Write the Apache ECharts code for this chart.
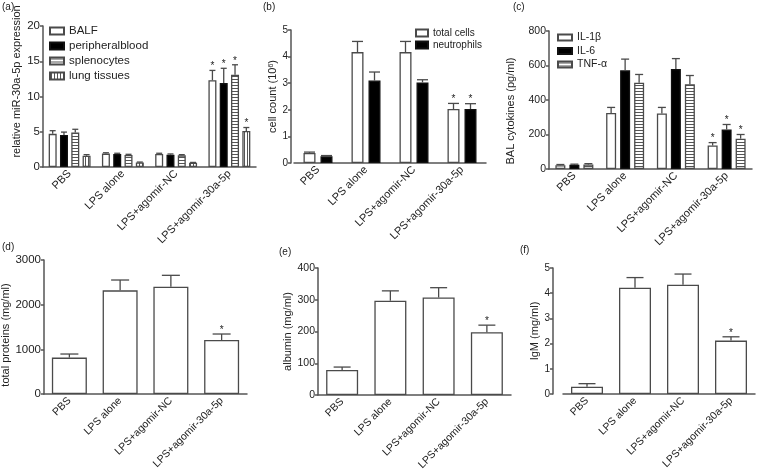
<!DOCTYPE html>
<html><head><meta charset="utf-8">
<script src="https://cdn.jsdelivr.net/npm/echarts@6/dist/echarts.min.js"></script>
<style>html,body{margin:0;padding:0;background:#fff}#c{width:759px;height:473px}</style>
</head><body><div id="c"></div>
<script>
// ---------- data ----------
const categories = ['PBS', 'LPS alone', 'LPS+agomir-NC', 'LPS+agomir-30a-5p'];

// (a) relative miR-30a-5p expression
const aNames = ['BALF', 'peripheralblood', 'splenocytes', 'lung tissues'];
const aBALF = [4.7, 1.9, 1.85, 12.3];
const aBALFSem = [0.45, 0.12, 0.1, 1.4];
const aBlood = [4.55, 1.85, 1.75, 11.9];
const aBloodSem = [0.4, 0.1, 0.1, 2.1];
const aSpleen = [4.9, 1.7, 1.65, 13.1];
const aSpleenSem = [0.45, 0.1, 0.1, 1.4];
const aLung = [1.6, 0.65, 0.6, 5.1];
const aLungSem = [0.15, 0.05, 0.05, 0.5];
const aStars = [0, 0, 0, 1];
const aTicks = [0, 5, 10, 15, 20];

// (b) cell count (10^6)
const bNames = ['total cells', 'neutrophils'];
const bTotal = [0.38, 4.17, 4.17, 2.03];
const bTotalSem = [0.03, 0.4, 0.4, 0.21];
const bNeut = [0.25, 3.1, 3.03, 2.03];
const bNeutSem = [0.03, 0.32, 0.1, 0.2];
const bStars = [0, 0, 0, 1];
const bTicks = [0, 1, 2, 3, 4, 5];

// (c) BAL cytokines (pg/ml)
const cNames = ['IL-1β', 'IL-6', 'TNF-α'];
const cIL1b = [22, 325, 322, 136];
const cIL1bSem = [4, 32, 35, 17];
const cIL6 = [24, 572, 580, 229];
const cIL6Sem = [4, 65, 60, 29];
const cTNF = [26, 500, 492, 176];
const cTNFSem = [5, 48, 50, 24];
const cStars = [0, 0, 0, 1];
const cTicks = [0, 200, 400, 600, 800];

// (d) total proteins (mg/ml)
const dProt = [815, 2320, 2403, 1209];
const dProtSem = [80, 232, 254, 134];
const dStars = [0, 0, 0, 1];
const dTicks = [0, 1000, 2000, 3000];

// (e) albumin (mg/ml)
const eAlb = [79, 297, 307, 198];
const eAlbSem = [9, 31, 31, 22];
const eStars = [0, 0, 0, 1];
const eTicks = [0, 100, 200, 300, 400];

// (f) IgM (mg/ml)
const fIgM = [0.29, 4.22, 4.34, 2.12];
const fIgMSem = [0.12, 0.40, 0.42, 0.15];
const fStars = [0, 0, 0, 1];
const fTicks = [0, 1, 2, 3, 4, 5];

// ---------- styling / layout ----------
const FONT = "'Liberation Sans', Arial, Helvetica, sans-serif";
const INK = '#222';
const LINE = '#555';
const EDGE = '#4a4a4a';

function fillFor(kind) {
  if (kind === 'white') return '#ffffff';
  if (kind === 'black') return '#000000';
  const c = document.createElement('canvas');
  c.width = 3; c.height = 3;
  const g = c.getContext('2d');
  g.fillStyle = '#ffffff'; g.fillRect(0, 0, 3, 3);
  g.fillStyle = '#555555';
  if (kind === 'h') g.fillRect(0, 1, 3, 1); else g.fillRect(1, 0, 1, 3);
  return { image: c, repeat: 'repeat' };
}

const panels = [
  { title: '(a)', tl: [2, 2], grid: { left: 43, top: 26, width: 213, height: 141 }, yOffset: 0,
    ticks: aTicks, yName: 'relative miR-30a-5p expression', namePad: [0, 0, 0, 30], nameGap: 21,
    yFont: 11.5, xFont: 11, barWidth: 8, gap: 3.3, cap: 6,
    series: [
      { name: aNames[0], data: aBALF, sem: aBALFSem, fill: 'white', stars: aStars },
      { name: aNames[1], data: aBlood, sem: aBloodSem, fill: 'black', stars: aStars },
      { name: aNames[2], data: aSpleen, sem: aSpleenSem, fill: 'h', stars: aStars },
      { name: aNames[3], data: aLung, sem: aLungSem, fill: 'v', stars: aStars }
    ],
    legend: { names: aNames, left: 49, top: 25, w: 14, h: 7, gap: 3, fs: 11.5, tg: 8 } },
  { title: '(b)', tl: [263, 2], grid: { left: 294, top: 30, width: 192, height: 133 }, yOffset: 3,
    ticks: bTicks, yName: 'cell count (10{sup|6})', namePad: [0, 0, 0, 0], nameGap: 12,
    yFont: 10, xFont: 11, barWidth: 12, gap: 5, cap: 11,
    series: [
      { name: bNames[0], data: bTotal, sem: bTotalSem, fill: 'white', stars: bStars },
      { name: bNames[1], data: bNeut, sem: bNeutSem, fill: 'black', stars: bStars }
    ],
    legend: { names: bNames, left: 415, top: 28, w: 12, h: 7, gap: 2, fs: 10, tg: 4 } },
  { title: '(c)', tl: [513, 2], grid: { left: 549, top: 31, width: 203, height: 138 }, yOffset: 0,
    ticks: cTicks, yName: 'BAL cytokines (pg/ml)', namePad: [0, 22, 0, 0], nameGap: 33,
    yFont: 10.5, xFont: 11, barWidth: 10, gap: 4, cap: 8,
    series: [
      { name: cNames[0], data: cIL1b, sem: cIL1bSem, fill: 'white', stars: cStars },
      { name: cNames[1], data: cIL6, sem: cIL6Sem, fill: 'black', stars: cStars },
      { name: cNames[2], data: cTNF, sem: cTNFSem, fill: 'h', stars: cStars }
    ],
    legend: { names: cNames, left: 557, top: 32, w: 14, h: 6, gap: 2.5, fs: 10.5, tg: 4 } },
  { title: '(d)', tl: [2, 242], grid: { left: 44, top: 260, width: 203, height: 134 }, yOffset: 0,
    ticks: dTicks, yName: 'total proteins (mg/ml)', namePad: [0, 16, 0, 0], nameGap: 30,
    yFont: 11.5, xFont: 10.5, barWidth: 35, gap: 0, cap: 18,
    series: [{ name: 'total proteins', data: dProt, sem: dProtSem, fill: 'white', stars: dStars }] },
  { title: '(e)', tl: [279, 247], grid: { left: 318, top: 268, width: 193, height: 127 }, yOffset: 0,
    ticks: eTicks, yName: 'albumin (mg/ml)', namePad: [0, 0, 0, 0], nameGap: 25,
    yFont: 10.5, xFont: 10.5, barWidth: 32, gap: 0, cap: 17,
    series: [{ name: 'albumin', data: eAlb, sem: eAlbSem, fill: 'white', stars: eStars }] },
  { title: '(f)', tl: [520, 245], grid: { left: 563, top: 268, width: 192, height: 126 }, yOffset: 10,
    ticks: fTicks, yName: 'IgM (mg/ml)', namePad: [0, 0, 0, 0], nameGap: 7,
    yFont: 10, xFont: 10.5, barWidth: 32, gap: 0, cap: 17,
    series: [{ name: 'IgM', data: fIgM, sem: fIgMSem, fill: 'white', stars: fStars }] }
];

// ---------- build option ----------
const option = {
  animation: false,
  backgroundColor: '#ffffff',
  textStyle: { fontFamily: FONT },
  title: [], grid: [], xAxis: [], yAxis: [], legend: [], series: []
};

panels.forEach((p, i) => {
  option.title.push({ text: p.title, left: p.tl[0], top: p.tl[1], padding: 0,
    textStyle: { fontSize: 10, fontWeight: 'normal', color: INK, fontFamily: FONT } });
  option.grid.push(Object.assign({ containLabel: false, outerBoundsMode: 'none' }, p.grid));
  option.xAxis.push({
    type: 'category', gridIndex: i, data: categories,
    axisLine: { lineStyle: { color: LINE, width: 1.5 } },
    axisTick: { alignWithLabel: true, length: 4, lineStyle: { color: LINE, width: 1.5 } },
    axisLabel: { rotate: 45, interval: 0, fontSize: p.xFont, color: INK, margin: 5, fontFamily: FONT }
  });
  const tk = p.ticks;
  option.yAxis.push({
    type: 'value', gridIndex: i, min: tk[0], max: tk[tk.length - 1], interval: tk[1] - tk[0],
    offset: p.yOffset,
    splitLine: { show: false },
    axisLine: { show: true, lineStyle: { color: LINE, width: 1.5 } },
    axisTick: { show: true, length: 3, lineStyle: { color: LINE, width: 1.5 } },
    axisLabel: { fontSize: p.yFont, color: INK, margin: 3, fontFamily: FONT, formatter: v => String(v) },
    name: p.yName, nameLocation: 'middle', nameRotate: 90, nameGap: p.nameGap,
    nameTextStyle: { fontSize: 11, color: INK, fontFamily: FONT, padding: p.namePad,
      rich: { sup: { fontSize: 7, verticalAlign: 'top', color: INK, fontFamily: FONT } } }
  });
  const n = p.series.length;
  p.series.forEach((s, j) => {
    option.series.push({
      type: 'bar', name: s.name, xAxisIndex: i, yAxisIndex: i, data: s.data,
      barWidth: p.barWidth, barGap: (p.gap / p.barWidth * 100) + '%',
      itemStyle: { color: fillFor(s.fill), borderColor: s.fill === 'black' ? '#111' : EDGE, borderWidth: 1.3 },
      emphasis: { disabled: true }, z: 2
    });
  });
  const errData = [];
  p.series.forEach((s, j) => {
    s.data.forEach((v, k) => errData.push([k, j, v, s.sem[k], s.stars[k]]));
  });
  const bw = p.barWidth, gap = p.gap, cap = p.cap;
  option.series.push({
    type: 'custom', xAxisIndex: i, yAxisIndex: i, data: errData, z: 3,
    encode: { x: 0, y: 2 }, silent: true,
    renderItem: function (params, api) {
      const k = api.value(0), j = api.value(1), m = api.value(2), s = api.value(3), st = api.value(4);
      const base = api.coord([k, m]);
      const top = api.coord([k, m + s]);
      const x = base[0] + (j - (n - 1) / 2) * (bw + gap);
      const children = [
        { type: 'line', shape: { x1: x, y1: base[1], x2: x, y2: top[1] }, style: { stroke: EDGE, lineWidth: 1.3 } },
        { type: 'line', shape: { x1: x - cap / 2, y1: top[1], x2: x + cap / 2, y2: top[1] }, style: { stroke: EDGE, lineWidth: 1.3 } }
      ];
      if (st) {
        children.push({ type: 'text', style: { text: '*', x: x, y: top[1] + 1, align: 'center', verticalAlign: 'bottom',
          fontSize: 10, fontFamily: FONT, fill: INK } });
      }
      return { type: 'group', children: children };
    }
  });
  if (p.legend) {
    const L = p.legend;
    option.legend.push({
      data: L.names, orient: 'vertical', left: L.left, top: L.top, padding: 0,
      itemWidth: L.w, itemHeight: L.h, itemGap: L.gap, itemTextGap: L.tg, icon: 'rect',
      selectedMode: false,
      textStyle: { fontSize: L.fs, color: INK, fontFamily: FONT }
    });
  }
});

const chart = echarts.init(document.getElementById('c'), null, { renderer: 'canvas' });
chart.setOption(option);
</script>
</body></html>
